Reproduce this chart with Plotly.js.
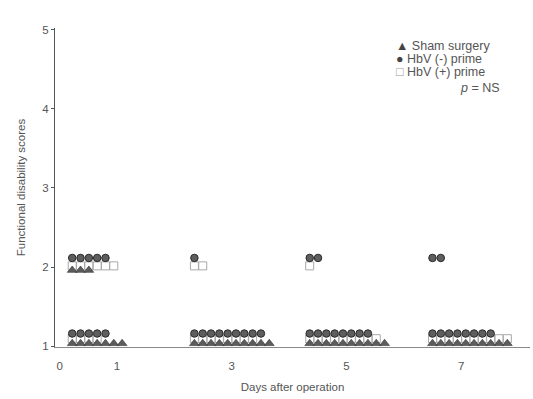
<!DOCTYPE html>
<html>
<head>
<meta charset="utf-8">
<script src="https://cdn.plot.ly/plotly-3.0.1.min.js"></script>
<style>
  html, body { margin: 0; padding: 0; background: #fff; }
  #chart { width: 533px; height: 399px; }
</style>
</head>
<body>
<div id="chart"></div>
<script>
// Days at which functional disability was scored
const days = [1, 3, 5, 7];
const xTickVals = [0, 1, 3, 5, 7];
const yTickVals = [1, 2, 3, 4, 5];

// Number of animals per score (2 or 1) on each day
const shamScore2 = [3, 0, 0, 0];
const shamScore1 = [7, 10, 10, 10];
const hbvNegScore2 = [5, 1, 2, 2];
const hbvNegScore1 = [5, 9, 8, 8];
const hbvPosScore2 = [6, 2, 1, 0];
const hbvPosScore1 = [4, 8, 9, 10];

// Strip layout: where each day's row of dots begins, and the dot pitch
const stripStart = [0.22, 2.35, 4.36, 6.5];
const pitch = 0.145;

// Expand score counts into one point per animal, laid out left to right;
// each series sits at its own small vertical offset within a score row
function strip(score2, score1, shift2, shift1) {
  const x = [], y = [];
  days.forEach((d, i) => {
    for (let k = 0; k < score2[i]; k++) { x.push(stripStart[i] + k * pitch); y.push(2 + shift2); }
    for (let k = 0; k < score1[i]; k++) { x.push(stripStart[i] + k * pitch); y.push(1 + shift1); }
  });
  return { x, y };
}

const sham = strip(shamScore2, shamScore1, -0.04, 0.035);
const neg = strip(hbvNegScore2, hbvNegScore1, 0.115, 0.16);
const pos = strip(hbvPosScore2, hbvPosScore1, 0.015, 0.095);

const traces = [
  {
    x: pos.x, y: pos.y, type: 'scatter', mode: 'markers', name: 'HbV (+) prime',
    marker: { symbol: 'square-open', size: 8, color: '#a8a8a8', line: { width: 1, color: '#a8a8a8' } },
    hoverinfo: 'skip'
  },
  {
    x: sham.x, y: sham.y, type: 'scatter', mode: 'markers', name: 'Sham surgery',
    marker: { symbol: 'triangle-up', size: 8.5, color: '#5c5c5c', line: { width: 0.6, color: '#333' } },
    hoverinfo: 'skip'
  },
  {
    x: neg.x, y: neg.y, type: 'scatter', mode: 'markers', name: 'HbV (-) prime',
    marker: { symbol: 'circle', size: 7.5, color: '#5e5e5e', line: { width: 1, color: '#2a2a2a' } },
    hoverinfo: 'skip'
  }
];

const fam = 'Liberation Sans, Arial, sans-serif';
const textFont = { family: fam, size: 12.5, color: '#555' };
const tickFont = { family: fam, size: 11.5, color: '#555' };

const layout = {
  width: 533, height: 399,
  margin: { l: 55, r: 3, t: 28, b: 52 },
  paper_bgcolor: '#fff', plot_bgcolor: '#fff',
  showlegend: false,
  font: textFont,
  xaxis: {
    range: [-0.08, 8.2],
    tickvals: xTickVals, ticktext: xTickVals.map(String),
    showgrid: false, zeroline: false,
    showline: true, linecolor: '#8a8a8a', linewidth: 1,
    ticks: 'outside', ticklen: 8, tickcolor: 'rgba(0,0,0,0)',
    tickfont: tickFont,
    title: { text: 'Days after operation', font: tickFont, standoff: 12 }
  },
  yaxis: {
    range: [0.99, 5.02],
    tickvals: yTickVals, ticktext: yTickVals.map(String),
    showgrid: false, zeroline: false,
    showline: true, linecolor: '#555', linewidth: 1,
    ticks: 'outside', ticklen: 3, tickcolor: '#555',
    tickfont: tickFont,
    title: { text: 'Functional disability scores', font: tickFont, standoff: 14 }
  },
  annotations: [
    { xref: 'paper', yref: 'paper', x: 0.714, y: 0.944, xanchor: 'left', yanchor: 'middle', showarrow: false,
      text: '<span style="color:#444">▲</span> Sham surgery', font: textFont },
    { xref: 'paper', yref: 'paper', x: 0.714, y: 0.903, xanchor: 'left', yanchor: 'middle', showarrow: false,
      text: '<span style="color:#444">●</span> HbV (-) prime', font: textFont },
    { xref: 'paper', yref: 'paper', x: 0.714, y: 0.862, xanchor: 'left', yanchor: 'middle', showarrow: false,
      text: '<span style="color:#999">□</span> HbV (+) prime', font: textFont },
    { xref: 'paper', yref: 'paper', x: 0.94, y: 0.813, xanchor: 'right', yanchor: 'middle', showarrow: false,
      text: '<i>p</i> = NS', font: textFont }
  ]
};

Plotly.newPlot('chart', traces, layout, { staticPlot: true, displayModeBar: false });
</script>
</body>
</html>
